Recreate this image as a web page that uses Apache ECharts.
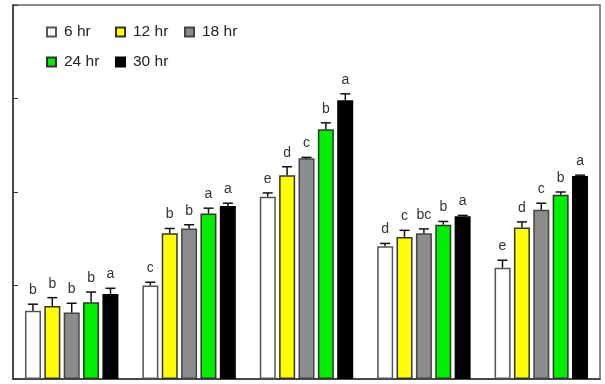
<!DOCTYPE html>
<html>
<head>
<meta charset="utf-8">
<script src="https://cdn.jsdelivr.net/npm/echarts@6/dist/echarts.min.js"></script>
<style>html,body{margin:0;padding:0;background:#fff}#c{width:605px;height:384px}</style>
</head>
<body>
<div id="c"></div>
<script>
var categories = ['G1', 'G2', 'G3', 'G4', 'G5'];
var seriesNames = ['6 hr', '12 hr', '18 hr', '24 hr', '30 hr'];
var v6  = [0.73, 1.00, 1.95, 1.42, 1.19];
var v12 = [0.78, 1.56, 2.18, 1.52, 1.62];
var v18 = [0.71, 1.61, 2.36, 1.56, 1.81];
var v24 = [0.82, 1.77, 2.67, 1.65, 1.97];
var v30 = [0.91, 1.85, 2.98, 1.74, 2.17];
var e6  = [0.07, 0.035, 0.04, 0.03, 0.08];
var e12 = [0.09, 0.05, 0.09, 0.07, 0.06];
var e18 = [0.10, 0.04, 0.01, 0.045, 0.07];
var e24 = [0.11, 0.057, 0.07, 0.035, 0.03];
var e30 = [0.06, 0.03, 0.07, 0.01, 0.01];
var l6  = ['b', 'c', 'e', 'd', 'e'];
var l12 = ['b', 'b', 'd', 'c', 'd'];
var l18 = ['b', 'b', 'c', 'bc', 'c'];
var l24 = ['b', 'a', 'b', 'b', 'b'];
var l30 = ['a', 'a', 'a', 'a', 'a'];
var yTicks = [0, 1, 2, 3, 4];

var values = [v6, v12, v18, v24, v30];
var errs = [e6, e12, e18, e24, e30];
var letters = [l6, l12, l18, l24, l30];
var colors = ['#ffffff', '#ffff00', '#8c8c8c', '#00ee00', '#000000'];
var borders = ['#555555', '#333333', '#444444', '#333333', '#000000'];
var BW = 16, STEP = 19.4;

var series = [];
seriesNames.forEach(function (name, i) {
  series.push({
    name: name, type: 'bar', data: values[i], barWidth: BW, barGap: '21%',
    itemStyle: { color: colors[i], borderColor: borders[i], borderWidth: 1.5 },
    z: 2
  });
});
seriesNames.forEach(function (name, i) {
  var data = values[i].map(function (v, k) { return [k, v, errs[i][k]]; });
  series.push({
    type: 'custom', data: data, z: 5, silent: true,
    renderItem: function (params, api) {
      var k = api.value(0), v = api.value(1), e = api.value(2);
      var p0 = api.coord([k, v]);
      var p1 = api.coord([k, v + e]);
      var x = p0[0] + (i - 2) * STEP;
      var hw = 5;
      return {
        type: 'group',
        children: [
          { type: 'line', shape: { x1: x, y1: p0[1], x2: x, y2: p1[1] }, style: { stroke: '#111', lineWidth: 1.5 } },
          { type: 'line', shape: { x1: x - hw, y1: p1[1], x2: x + hw, y2: p1[1] }, style: { stroke: '#111', lineWidth: 1.5 } },
          { type: 'text', x: x, y: p1[1] - 7, style: { text: letters[i][k], fill: '#333', font: '14px "Liberation Sans", Arial, sans-serif', align: 'center', verticalAlign: 'bottom' } }
        ]
      };
    }
  });
});

var legendPos = [[41, 19], [110, 19], [179, 19], [41, 49], [110, 49]];
var legends = seriesNames.map(function (name, i) {
  return {
    left: legendPos[i][0], top: legendPos[i][1], data: [name],
    itemWidth: 9, itemHeight: 9, icon: 'rect', selectedMode: false,
    textStyle: { fontSize: 15.5, color: '#222', fontFamily: '"Liberation Sans", Arial, sans-serif', padding: [0, 0, 0, 3] }
  };
});

var chart = echarts.init(document.getElementById('c'), null, { renderer: 'canvas' });
chart.setOption({
  animation: false,
  backgroundColor: '#fff',
  grid: { left: 13, right: 5, top: 5, bottom: 5, show: true, borderColor: '#666', borderWidth: 1.5 },
  legend: legends,
  xAxis: {
    type: 'category', data: categories, boundaryGap: true,
    axisLine: { lineStyle: { color: '#333', width: 1.5 } },
    axisTick: { inside: true, length: 4, lineStyle: { color: '#333' } },
    axisLabel: { show: false }, splitLine: { show: false }
  },
  yAxis: {
    type: 'value', min: yTicks[0], max: yTicks[yTicks.length - 1], interval: 1,
    axisLine: { show: true, lineStyle: { color: '#333', width: 1.5 } },
    axisTick: { show: true, inside: true, length: 5, lineStyle: { color: '#333' } },
    axisLabel: { show: false }, splitLine: { show: false }
  },
  series: series
});
</script>
</body>
</html>
